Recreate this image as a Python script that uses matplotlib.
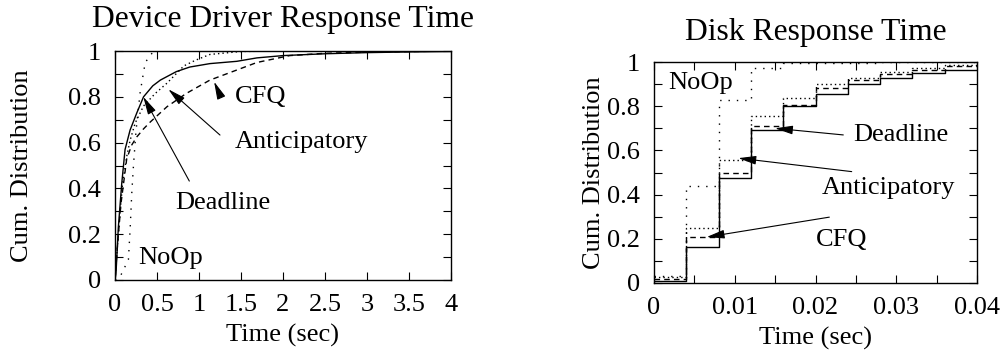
import numpy as np
import matplotlib
matplotlib.use("Agg")
import matplotlib.pyplot as plt
from matplotlib.ticker import MultipleLocator

plt.rcParams['font.family'] = ['Liberation Serif', 'DejaVu Serif']
plt.rcParams['font.size'] = 19

# --- Device driver response time (CDF curves) ---
dd_deadline_x = [0, 0.012, 0.04, 0.08, 0.12, 0.18, 0.26, 0.34, 0.45, 0.54, 0.73, 0.89, 1.13, 1.45, 1.69, 2.0, 2.5, 3.0, 3.5, 4.0]
dd_deadline_y = [0, 0.03, 0.23, 0.42, 0.57, 0.655, 0.73, 0.80, 0.848, 0.873, 0.91, 0.93, 0.945, 0.955, 0.97, 0.98, 0.988, 0.993, 0.996, 0.998]

dd_antic_x = [0, 0.02, 0.05, 0.09, 0.14, 0.18, 0.24, 0.34, 0.48, 0.62, 0.82, 0.96, 1.13, 1.5, 2.0, 4.0]
dd_antic_y = [0, 0.1, 0.25, 0.42, 0.54, 0.61, 0.685, 0.76, 0.815, 0.86, 0.935, 0.96, 0.985, 0.998, 1.0, 1.0]

dd_cfq_x = [0, 0.03, 0.07, 0.14, 0.2, 0.26, 0.34, 0.42, 0.62, 0.85, 1.13, 1.45, 1.69, 2.08, 2.5, 3.0, 4.0]
dd_cfq_y = [0, 0.15, 0.33, 0.53, 0.59, 0.625, 0.66, 0.69, 0.757, 0.815, 0.873, 0.917, 0.95, 0.98, 0.99, 0.995, 1.0]

dd_noop_x = [0, 0.05, 0.083, 0.16, 0.18, 0.2, 0.22, 0.25, 0.3, 0.36, 0.46, 1.0, 4.0]
dd_noop_y = [0, 0.01, 0.03, 0.09, 0.22, 0.38, 0.5, 0.65, 0.82, 0.95, 1.0, 1.0, 1.0]

# --- Disk response time (binned CDF, 4 ms bins) ---
disk_bins = [0, 0.004, 0.008, 0.012, 0.016, 0.020, 0.024, 0.028, 0.032, 0.036, 0.040]
disk_deadline = [0.007, 0.165, 0.477, 0.693, 0.80, 0.854, 0.90, 0.929, 0.949, 0.966]
disk_cfq = [0.02, 0.206, 0.50, 0.712, 0.806, 0.881, 0.919, 0.946, 0.964, 0.982]
disk_antic = [0.025, 0.248, 0.557, 0.756, 0.836, 0.90, 0.929, 0.956, 0.974, 0.986]
disk_noop = [0.03, 0.437, 0.828, 0.972, 0.994, 0.996, 0.997, 0.998, 0.999, 1.0]

fig = plt.figure(figsize=(10.06, 3.58), dpi=100)
ax1 = fig.add_axes([0.1143, 0.2179, 0.3340, 0.6396])
ax2 = fig.add_axes([0.6501, 0.2095, 0.3211, 0.6173])

dense_dot = (0, (1, 2.2))
sparse_dot = (0, (1, 5))
dashed = (0, (4, 3))

ax1.plot(dd_deadline_x, dd_deadline_y, color='k', lw=1.0, ls='-')
ax1.plot(dd_antic_x, dd_antic_y, color='k', lw=1.0, ls=dense_dot)
ax1.plot(dd_cfq_x, dd_cfq_y, color='k', lw=1.0, ls=dashed)
ax1.plot(dd_noop_x, dd_noop_y, color='k', lw=1.0, ls=sparse_dot)


def step_series(ax, vals, ls):
    ys = list(vals) + [vals[-1]]
    ax.step(disk_bins, ys, where='post', color='k', lw=1.0, ls=ls)


step_series(ax2, disk_deadline, '-')
step_series(ax2, disk_cfq, dashed)
step_series(ax2, disk_antic, dense_dot)
step_series(ax2, disk_noop, sparse_dot)

arrow = dict(arrowstyle='-|>,head_length=0.9,head_width=0.22', color='k', lw=0.8,
             shrinkA=0, shrinkB=0, mutation_scale=12)

ax1.annotate('', xy=(0.635, 0.833), xytext=(1.25, 0.633), arrowprops=arrow)
ax1.annotate('', xy=(0.337, 0.80), xytext=(0.885, 0.432), arrowprops=arrow)
ax1.annotate('', xy=(1.18, 0.866), xytext=(1.25, 0.808), arrowprops=arrow)
ax1.text(1.43, 0.80, 'CFQ', va='center', ha='left')
ax1.text(1.43, 0.604, 'Anticipatory', va='center', ha='left')
ax1.text(0.714, 0.335, 'Deadline', va='center', ha='left')
ax1.text(0.277, 0.095, 'NoOp', va='center', ha='left')

ax2.annotate('', xy=(0.01498, 0.700), xytext=(0.02344, 0.670), arrowprops=arrow)
ax2.annotate('', xy=(0.01044, 0.565), xytext=(0.02448, 0.504), arrowprops=arrow)
ax2.annotate('', xy=(0.00652, 0.208), xytext=(0.02171, 0.298), arrowprops=arrow)
ax2.text(0.00177, 0.904, 'NoOp', va='center', ha='left')
ax2.text(0.02468, 0.670, 'Deadline', va='center', ha='left')
ax2.text(0.02077, 0.429, 'Anticipatory', va='center', ha='left')
ax2.text(0.02006, 0.196, 'CFQ', va='center', ha='left')

ax1.set_xlim(0, 4)
ax1.set_ylim(0, 1)
ax1.set_xticks([0, 0.5, 1, 1.5, 2, 2.5, 3, 3.5, 4])
ax1.set_xticklabels(['0', '0.5', '1', '1.5', '2', '2.5', '3', '3.5', '4'])

ax2.set_xlim(0, 0.04)
ax2.set_ylim(0, 1)
ax2.set_xticks([0, 0.01, 0.02, 0.03, 0.04])
ax2.set_xticklabels(['0', '0.01', '0.02', '0.03', '0.04'])
ax2.xaxis.set_minor_locator(MultipleLocator(0.005))

for ax in (ax1, ax2):
    ax.set_yticks([0, 0.2, 0.4, 0.6, 0.8, 1])
    ax.set_yticklabels(['0', '0.2', '0.4', '0.6', '0.8', '1'])
    ax.yaxis.set_minor_locator(MultipleLocator(0.1))
    ax.tick_params(which='both', direction='in', top=True, right=True, length=6, width=0.8)
    ax.tick_params(axis='y', pad=10)
    ax.tick_params(axis='x', pad=10)
    for s in ax.spines.values():
        s.set_linewidth(1.0)
    ax.set_xlabel('Time (sec)', labelpad=6)
    ax.set_ylabel('Cum. Distribution')

ax1.yaxis.set_label_coords(-0.244, 0.5)
ax2.yaxis.set_label_coords(-0.152, 0.5)
ax1.set_title('Device Driver Response Time', pad=17)
ax2.set_title('Disk Response Time', pad=16)

fig.savefig('out.png', dpi=100)
